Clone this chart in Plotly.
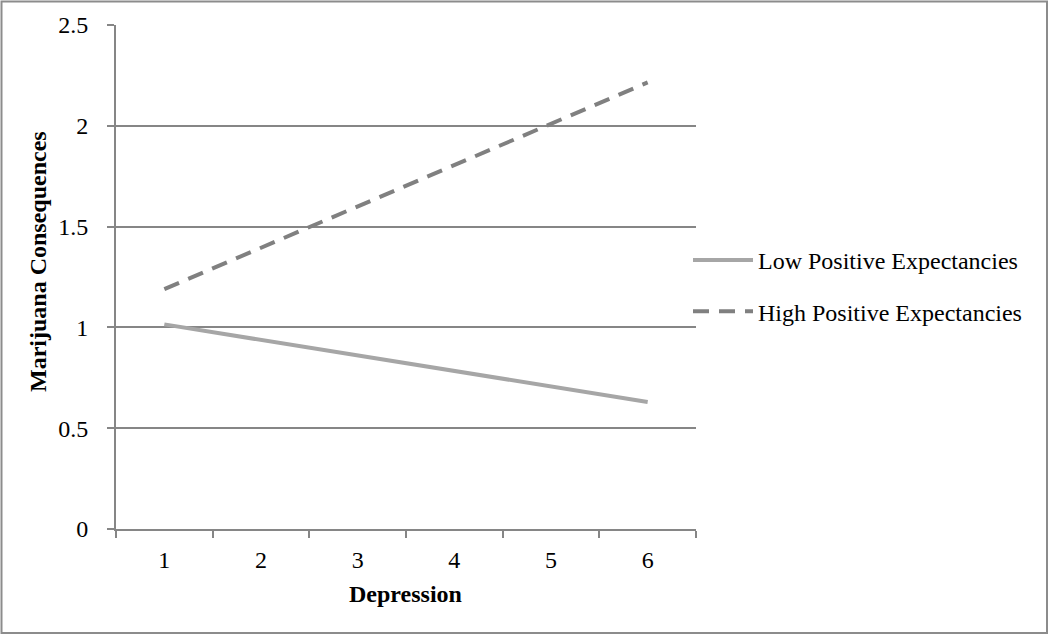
import plotly.graph_objects as go

categories = ["1", "2", "3", "4", "5", "6"]
low_vals = [1.015, 0.938, 0.861, 0.784, 0.707, 0.630]
high_vals = [1.19, 1.395, 1.60, 1.805, 2.01, 2.215]
y_ticks = [0, 0.5, 1, 1.5, 2, 2.5]
y_ticklabels = ["0", "0.5", "1", "1.5", "2", "2.5"]

W, H = 1050, 635
L, R, T, B = 116, 696, 25, 529

FONT = "Liberation Serif, Times New Roman, serif"
FS = 24

fig = go.Figure()
fig.add_trace(go.Scatter(
    x=categories, y=low_vals, mode="lines", name="Low Positive Expectancies",
    line=dict(color="#a6a6a6", width=4), legendgroup="a"))
fig.add_trace(go.Scatter(
    x=categories, y=high_vals, mode="lines", name="High Positive Expectancies",
    line=dict(color="#808080", width=4, dash="16px,10px"), legendgroup="b"))

def px_x(p):
    return (p - L) / (R - L)

def px_y(p):
    return (B - p) / (B - T)

fig.add_shape(type="rect", xref="paper", yref="paper",
              x0=px_x(1.5), x1=px_x(1047), y0=px_y(633), y1=px_y(1.5),
              line=dict(color="#8c8c8c", width=2), fillcolor="rgba(0,0,0,0)",
              layer="below")

fig.add_annotation(text="<b>Marijuana Consequences</b>", textangle=-90,
                   xref="paper", yref="paper", x=px_x(38), y=px_y(262),
                   xanchor="center", yanchor="middle", showarrow=False,
                   font=dict(family=FONT, size=FS, color="black"))
fig.add_annotation(text="<b>Depression</b>",
                   xref="paper", yref="paper", x=px_x(405), y=px_y(594),
                   xanchor="center", yanchor="middle", showarrow=False,
                   font=dict(family=FONT, size=FS, color="black"))

fig.update_layout(
    width=W, height=H,
    margin=dict(l=L, r=W - R, t=T, b=H - B),
    paper_bgcolor="white", plot_bgcolor="white",
    font=dict(family=FONT, size=FS, color="black"),
    showlegend=True,
    legend=dict(x=px_x(688), xanchor="left", y=px_y(286), yanchor="middle",
                font=dict(family=FONT, size=FS, color="black"),
                traceorder="grouped", tracegroupgap=17, itemwidth=60,
                bgcolor="rgba(0,0,0,0)"),
    xaxis=dict(
        type="category", range=[-0.5, 5.5],
        showline=True, linecolor="#868686", linewidth=2,
        ticks="outside", tickson="boundaries", ticklen=7, tickwidth=2, tickcolor="#868686",
        showgrid=False, zeroline=False,
        ticklabelstandoff=8,
        tickfont=dict(family=FONT, size=FS, color="black"),
    ),
    yaxis=dict(
        range=[0, 2.5], tickvals=y_ticks, ticktext=y_ticklabels,
        showline=True, linecolor="#868686", linewidth=2,
        ticks="outside", ticklen=7, tickwidth=2, tickcolor="#868686",
        showgrid=True, gridcolor="#868686", gridwidth=2,
        zeroline=False, ticklabelstandoff=14,
        tickfont=dict(family=FONT, size=FS, color="black"),
    ),
)

fig.write_html("out.html", config={"displayModeBar": False},
               post_script="document.body.style.margin='0';document.body.style.overflow='hidden';")
